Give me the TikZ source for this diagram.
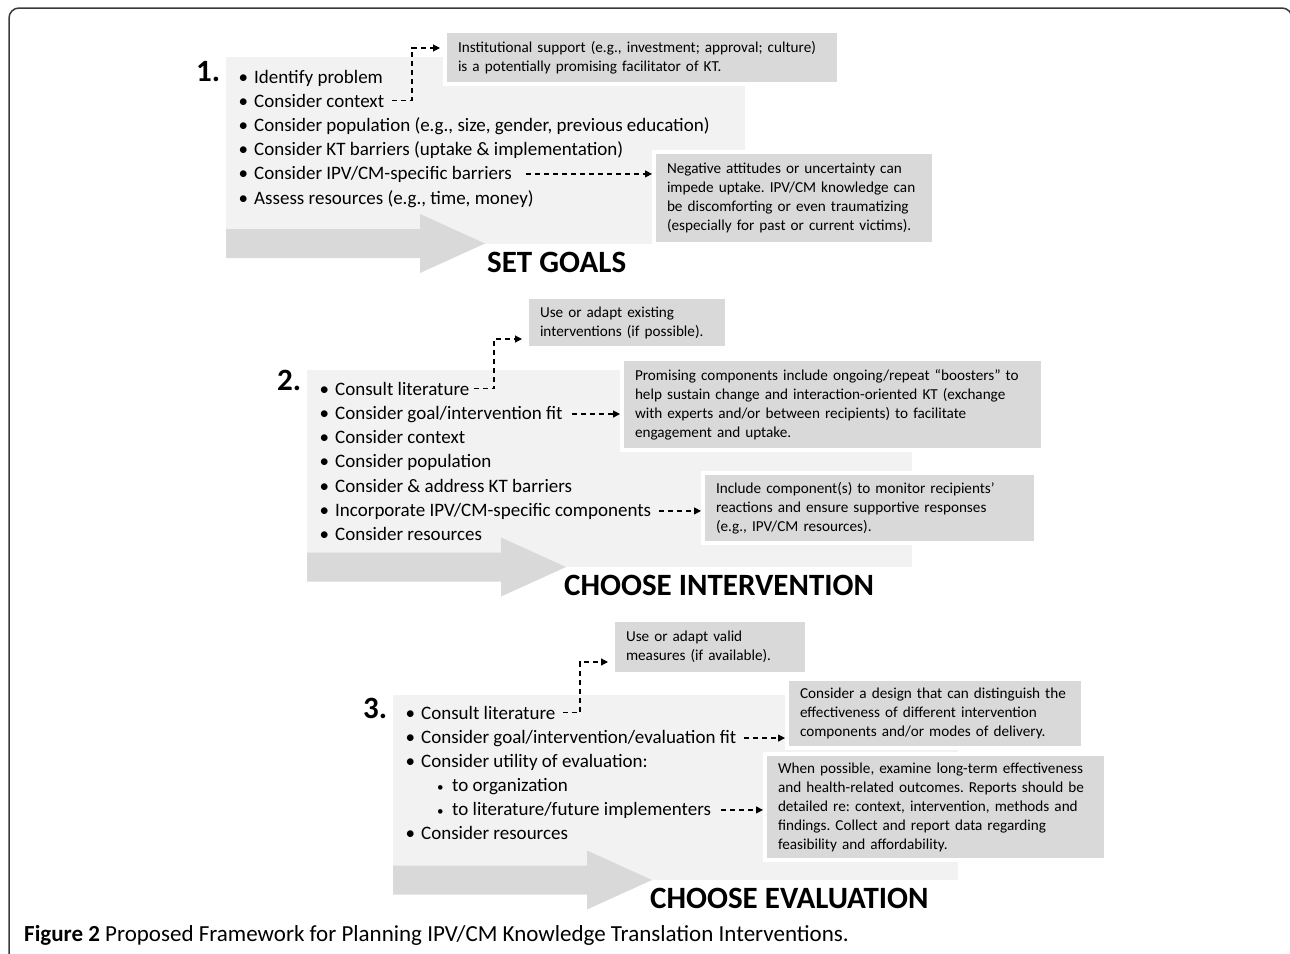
\documentclass[tikz,border=0pt]{standalone}
\usepackage{fontspec}
\setmainfont{Carlito}
\usetikzlibrary{arrows.meta}
\definecolor{panelgray}{HTML}{F2F2F2}
\definecolor{boxgray}{HTML}{D9D9D9}
\definecolor{framegray}{HTML}{3A3A3A}
\frenchspacing
\newcommand{\itm}[1]{\makebox[15.5pt][l]{\textbullet}#1}
\newcommand{\subitm}[1]{\makebox[15pt][l]{\fontsize{13}{13}\selectfont\textbullet}#1}

\begin{document}
\begin{tikzpicture}[x=1pt, y=-1pt,
        item/.style={anchor=base west, inner sep=0pt, font=\fontsize{19}{23}\selectfont},
        note/.style={anchor=north west, fill=boxgray, draw=white, line width=4pt, inner xsep=13pt, inner ysep=0pt, align=left, font=\fontsize{15.2}{19}\selectfont},
        title/.style={anchor=base west, inner sep=0pt, font=\fontsize{31}{34}\selectfont\bfseries},
        conn/.style={line width=1.2pt, dash pattern=on 5pt off 4pt, -{Triangle[length=7pt,width=7pt]}}
    ]
        \useasboundingbox (0,0) rectangle (1290,953);
        \clip (0,0) rectangle (1290,953);
        \draw[framegray, line width=1.5pt, rounded corners=10pt] (9,8) rectangle (1292,985);

        % panels and big arrows
        \fill[panelgray] (226,57) rectangle (745,244);
        \fill[panelgray] (307,370) rectangle (912,567);
        \fill[panelgray] (393,695) rectangle (958,880);
        \foreach \x/\y in {226/243.5, 307/567, 393/880}
            \fill[boxgray] (\x,\y) ++(0,-14.5) -- ++(194,0) -- ++(0,-15) -- ++(65,29.5) -- ++(-65,29.5) -- ++(0,-15) -- ++(-194,0) -- cycle;

        \node[title] (n1) at (196,81) {1.};
        \node[title] (n2) at (277,390) {2.};
        \node[title] (n3) at (363,718) {3.};
        \node[title] (goals) at (487,272) {SET GOALS};
        \node[title] (interv) at (564,595) {CHOOSE INTERVENTION};
        \node[title] (evalu) at (650,908) {CHOOSE EVALUATION};

        % 1. set goals
        \node[item] (idp1) at (238.5,83) {\itm{Identify problem}};
        \node[item] (ctx1) at (238.5,107) {\itm{Consider context}};
        \node[item] (pop1) at (238.5,131) {\itm{Consider population (e.g., size, gender, previous education)}};
        \node[item] (bar1) at (238.5,155) {\itm{Consider KT barriers (uptake \& implementation)}};
        \node[item] (ipv1) at (238.5,179) {\itm{Consider IPV/CM-specific barriers}};
        \node[item] (res1) at (238.5,204) {\itm{Assess resources (e.g., time, money)}};

        \node[note, minimum width=392, minimum height=53, text width=368] (inst) at (443,29)
            {Institutional support (e.g., investment; approval; culture)\\is a potentially promising facilitator of KT.};
        \node[note, minimum width=278, minimum height=92, text width=254] (neg) at (652,150)
            {Negative attitudes or uncertainty can\\impede uptake. IPV/CM knowledge can\\be discomforting or even traumatizing\\(especially for past or current victims).};

        \draw[conn] ([xshift=8pt]ctx1.east) -| ([xshift=-31pt,yshift=-19pt]inst.north west) -- ([xshift=-3pt,yshift=-19pt]inst.north west);
        \draw[conn] ([xshift=14pt]ipv1.east) -- (ipv1.east -| neg.west);

        % 2. choose intervention
        \node[item] (lit2) at (319.5,395) {\itm{Consult literature}};
        \node[item] (fit2) at (319.5,419) {\itm{Consider goal/intervention fit}};
        \node[item] (ctx2) at (319.5,443) {\itm{Consider context}};
        \node[item] (pop2) at (319.5,467) {\itm{Consider population}};
        \node[item] (bar2) at (319.5,492) {\itm{Consider \& address KT barriers}};
        \node[item] (comp2) at (319.5,516) {\itm{Incorporate IPV/CM-specific components}};
        \node[item] (res2) at (319.5,540) {\itm{Consider resources}};

        \node[note, minimum width=198, minimum height=51, text width=174] (use) at (525,295)
            {Use or adapt existing\\interventions (if possible).};
        \node[note, minimum width=419, minimum height=91, text width=395] (prom) at (620,357)
            {Promising components include ongoing/repeat “boosters” to\\help sustain change and interaction-oriented KT (exchange\\with experts and/or between recipients) to facilitate\\engagement and uptake.};
        \node[note, minimum width=331, minimum height=70, text width=307] (incl) at (701,471)
            {Include component(s) to monitor recipients’\\reactions and ensure supportive responses\\(e.g., IPV/CM resources).};

        \draw[conn] ([xshift=4pt]lit2.east) -| ([xshift=-31pt,yshift=11pt]use.south west) -- ([xshift=-3pt,yshift=11pt]use.south west);
        \draw[conn] ([xshift=9pt]fit2.east) -- (fit2.east -| prom.west);
        \draw[conn] ([xshift=8pt]comp2.east) -- (comp2.east -| incl.west);

        % 3. choose evaluation
        \node[item] (lit3) at (405.5,719) {\itm{Consult literature}};
        \node[item] (fit3) at (405.5,743) {\itm{Consider goal/intervention/evaluation fit}};
        \node[item] (util3) at (405.5,767) {\itm{Consider utility of evaluation:}};
        \node[item] (org3) at (437,791) {\subitm{to organization}};
        \node[item] (fut3) at (437,815) {\subitm{to literature/future implementers}};
        \node[item] (res3) at (405.5,839) {\itm{Consider resources}};

        \node[note, minimum width=192, minimum height=54, text width=168] (valid) at (611,618)
            {Use or adapt valid\\measures (if available).};
        \node[note, minimum width=294, minimum height=69, text width=270] (design) at (785,677)
            {Consider a design that can distinguish the\\effectiveness of different intervention\\components and/or modes of delivery.};
        \node[note, minimum width=339, minimum height=106, text width=315] (when) at (763,752)
            {When possible, examine long-term effectiveness\\and health-related outcomes. Reports should be\\detailed re: context, intervention, methods and\\findings. Collect and report data regarding\\feasibility and affordability.};

        \draw[conn] ([xshift=7pt]lit3.east) -| ([xshift=-31pt,yshift=14pt]valid.south west) -- ([xshift=-3pt,yshift=14pt]valid.south west);
        \draw[conn] ([xshift=8pt]fit3.east) -- (fit3.east -| design.west);
        \draw[conn] ([xshift=10pt]fut3.east) -- (fut3.east -| when.west);

        \node[anchor=base west, inner sep=0pt, font=\fontsize{23}{27}\selectfont] (cap) at (24,941)
            {\textbf{Figure 2} Proposed Framework for Planning IPV/CM Knowledge Translation Interventions.};
    \end{tikzpicture}
\end{document}
